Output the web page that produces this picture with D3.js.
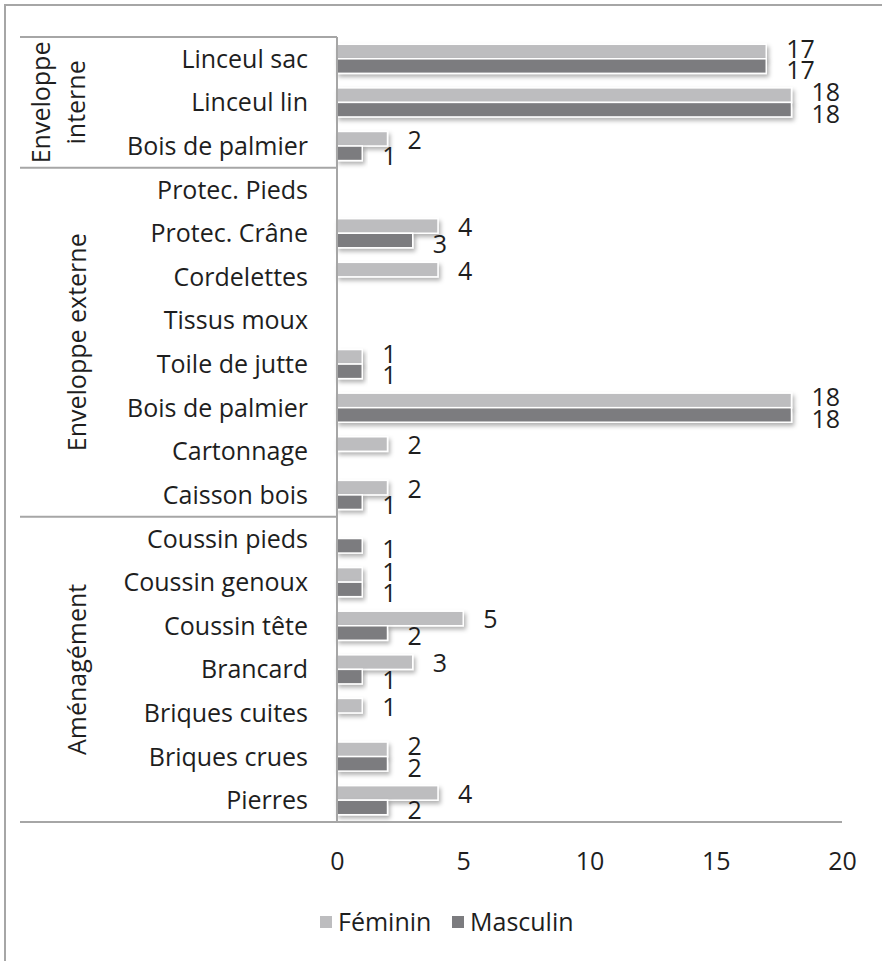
<!DOCTYPE html>
<html>
<head>
<meta charset="utf-8">
<script src="https://cdn.jsdelivr.net/npm/d3@7"></script>
<style>
  body { margin: 0; background: #fff; }
  svg text { font-family: "Open Sans", sans-serif; fill: #1e1e1e; }
</style>
</head>
<body>
<script>
// categories, top to bottom, with the group they belong to
const groups = ["Enveloppe interne", "Enveloppe externe", "Aménagément"];
const groupSizes = [3, 8, 7];
const categories = [
  "Linceul sac", "Linceul lin", "Bois de palmier",
  "Protec. Pieds", "Protec. Crâne", "Cordelettes", "Tissus moux", "Toile de jutte", "Bois de palmier ", "Cartonnage", "Caisson bois",
  "Coussin pieds", "Coussin genoux", "Coussin tête", "Brancard", "Briques cuites", "Briques crues", "Pierres"
];
// null = no bar / no label
const feminin  = [17, 18, 2,  null, 4, 4, null, 1, 18, 2, 2,     null, 1, 5, 3, 1, 2, 4];
const masculin = [17, 18, 1,  null, 3, null, null, 1, 18, null, 1,  1, 1, 2, 1, null, 2, 2];
const seriesNames = ["Féminin", "Masculin"];
const seriesColors = ["#bdbdbf", "#7c7c7f"];
const xTicks = [0, 5, 10, 15, 20];

const width = 886, height = 961;
const plot = { left: 337, right: 842, top: 37, bottom: 822 };

const svg = d3.select("body").append("svg")
  .attr("width", width)
  .attr("height", height);

// soft shadow under bars
const defs = svg.append("defs");
defs.append("filter")
  .attr("id", "shadow")
  .attr("x", "-10%").attr("y", "-50%")
  .attr("width", "130%").attr("height", "250%")
  .append("feDropShadow")
  .attr("dx", 2).attr("dy", 3)
  .attr("stdDeviation", 2)
  .attr("flood-color", "#000")
  .attr("flood-opacity", 0.3);

// outer frame (only top and left visible in the picture)
svg.append("path")
  .attr("d", `M5,${height} V5 H882`)
  .attr("fill", "none")
  .attr("stroke", "#a6a6a6")
  .attr("stroke-width", 2);

const x = d3.scaleLinear().domain([0, 20]).range([plot.left, plot.right]);
const y = d3.scaleBand().domain(categories).range([plot.top, plot.bottom]).padding(0);
const ySub = d3.scaleBand().domain([0, 1]).range([0, y.bandwidth()]).paddingInner(0).paddingOuter(0.5);

// rows for bars; labels of a pair that collide get pushed apart like Excel does
const rows = [];
categories.forEach((c, i) => {
  const f = feminin[i], m = masculin[i];
  const clash = f != null && m != null && Math.abs(f - m) < 1;
  [f, m].forEach((v, s) => {
    if (v == null) return;
    let shift = s === 0 ? 1 : 3;
    if (clash) shift = s === 0 ? -3 : 4;
    rows.push({ cat: c, s: s, v: v, shift: shift });
  });
});

// bars
svg.append("g").selectAll("rect")
  .data(rows)
  .enter().append("rect")
  .attr("x", x(0))
  .attr("y", d => y(d.cat) + ySub(d.s))
  .attr("width", d => x(d.v) - x(0))
  .attr("height", ySub.bandwidth())
  .attr("fill", d => seriesColors[d.s])
  .attr("stroke", "#fff")
  .attr("stroke-width", 1.5)
  .attr("filter", "url(#shadow)");

// value labels
svg.append("g").selectAll("text")
  .data(rows)
  .enter().append("text")
  .attr("x", d => x(d.v) + 20)
  .attr("y", d => y(d.cat) + ySub(d.s) + ySub.bandwidth() / 2 + 9 + d.shift)
  .style("font-size", "25px")
  .text(d => d.v);

// category labels
svg.append("g").selectAll("text")
  .data(categories)
  .enter().append("text")
  .attr("x", 308)
  .attr("y", d => y(d) + y.bandwidth() / 2 + 9)
  .attr("text-anchor", "end")
  .style("font-size", "25px")
  .text(d => d.trim());

// group separators and labels
const lineColor = "#a6a6a6";
let start = 0;
const sepG = svg.append("g");
groups.forEach((g, gi) => {
  const y0 = y(categories[start]);
  const y1 = y(categories[start + groupSizes[gi] - 1]) + y.bandwidth();
  sepG.append("line")
    .attr("x1", 20).attr("x2", plot.left)
    .attr("y1", y0).attr("y2", y0)
    .attr("stroke", lineColor).attr("stroke-width", 2);
  const cy = (y0 + y1) / 2;
  const lines = gi === 0 ? ["Enveloppe", "interne"] : [g];
  const baselines = gi === 0 ? [50, 85] : [86];
  lines.forEach((t, li) => {
    sepG.append("text")
      .attr("transform", `translate(${baselines[li]},${cy}) rotate(-90)`)
      .attr("text-anchor", "middle")
      .style("font-size", "25px")
      .text(t);
  });
  start += groupSizes[gi];
});

// bottom axis line across the whole chart
svg.append("line")
  .attr("x1", 20).attr("x2", plot.right)
  .attr("y1", plot.bottom).attr("y2", plot.bottom)
  .attr("stroke", lineColor).attr("stroke-width", 2);

// vertical category axis
svg.append("line")
  .attr("x1", plot.left).attr("x2", plot.left)
  .attr("y1", plot.top).attr("y2", plot.bottom)
  .attr("stroke", lineColor).attr("stroke-width", 2);

// value axis tick labels (no axis line)
const xAxis = d3.axisBottom(x).tickValues(xTicks).tickSize(0).tickPadding(0);
const axG = svg.append("g")
  .attr("transform", `translate(0,852)`)
  .call(xAxis);
axG.select(".domain").remove();
axG.selectAll("text")
  .attr("dy", 0)
  .attr("y", 18)
  .style("font-size", "25px")
  .attr("fill", "#1e1e1e");

// legend
const legend = svg.append("g").attr("transform", "translate(0,922)");
const legendX = [320, 452];
seriesNames.forEach((n, i) => {
  legend.append("rect")
    .attr("x", legendX[i]).attr("y", -6)
    .attr("width", 12).attr("height", 12)
    .attr("fill", seriesColors[i]);
  legend.append("text")
    .attr("x", legendX[i] + 18).attr("y", 9)
    .style("font-size", "25px")
    .text(n);
});
</script>
</body>
</html>
